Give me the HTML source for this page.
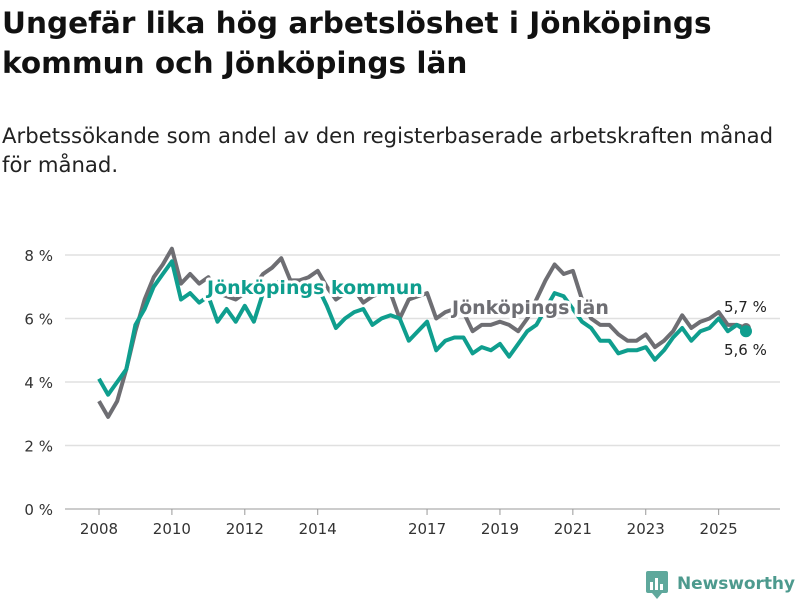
<!DOCTYPE html>
<html><head><meta charset="utf-8"><style>
body{margin:0;background:#fff;font-family:"DejaVu Sans","Liberation Sans",sans-serif;}
#wrap{position:relative;width:800px;height:600px;overflow:hidden}
</style></head><body>
<div id="wrap">
<svg id="svg" width="800" height="600" xmlns="http://www.w3.org/2000/svg">
<text x="2" y="33" font-size="29.5" font-weight="bold" fill="#111">Ungefär lika hög arbetslöshet i Jönköpings</text>
<text x="2" y="73" font-size="29.5" font-weight="bold" fill="#111">kommun och Jönköpings län</text>
<text x="2" y="143" font-size="21.2" fill="#222">Arbetssökande som andel av den registerbaserade arbetskraften månad</text>
<text x="2" y="172" font-size="21.2" fill="#222">för månad.</text>
<g id="grid"></g><g id="axes"></g><g id="series"></g><g id="labels"></g>
<g>
<rect x="646" y="571" width="22" height="22" rx="2" fill="#5fa89c"/>
<rect x="650" y="582" width="3" height="8" fill="#fff"/><rect x="655" y="578" width="3" height="12" fill="#fff"/><rect x="660" y="584" width="3" height="6" fill="#fff"/>
<polygon points="652,593 662,593 657,599" fill="#5fa89c"/>
<text x="677" y="589" font-size="17" font-weight="bold" fill="#4d9a8e" textLength="118">Newsworthy</text>
</g>
</svg>
</div>
<script>
const years=[2008,2009,2010,2011,2012,2013,2014,2015,2016,2017,2018,2019,2020,2021,2022,2023,2024,2025];
const xTicks=[2008,2010,2012,2014,2017,2019,2021,2023,2025];
const yTicks=[0,2,4,6,8];
const lanValues=[3.4,2.9,3.4,4.4, 5.6,6.6,7.3,7.7, 8.2,7.1,7.4,7.1, 7.3,6.8,6.7,6.6, 6.8,7.0,7.4,7.6, 7.9,7.2,7.2,7.3, 7.5,7.0,6.6,6.8, 6.9,6.5,6.7,6.8, 6.8,6.0,6.6,6.7, 6.8,6.0,6.2,6.3, 6.2,5.6,5.8,5.8, 5.9,5.8,5.6,6.0, 6.6,7.2,7.7,7.4, 7.5,6.6,6.0,5.8, 5.8,5.5,5.3,5.3, 5.5,5.1,5.3,5.6, 6.1,5.7,5.9,6.0, 6.2,5.8,5.8,5.7];
const kommunValues=[4.1,3.6,4.0,4.4, 5.8,6.3,7.0,7.4, 7.8,6.6,6.8,6.5, 6.7,5.9,6.3,5.9, 6.4,5.9,6.8,7.0, 7.2,6.9,6.9,7.0, 7.0,6.4,5.7,6.0, 6.2,6.3,5.8,6.0, 6.1,6.0,5.3,5.6, 5.9,5.0,5.3,5.4, 5.4,4.9,5.1,5.0, 5.2,4.8,5.2,5.6, 5.8,6.3,6.8,6.7, 6.3,5.9,5.7,5.3, 5.3,4.9,5.0,5.0, 5.1,4.7,5.0,5.4, 5.7,5.3,5.6,5.7, 6.0,5.6,5.8,5.6];
const NS="http://www.w3.org/2000/svg";
const x=t=>99+(t-2008)*36.45;
const y=v=>509-v*31.75;
function mk(tag,attrs,parent,txt){const e=document.createElementNS(NS,tag);for(const k in attrs)e.setAttribute(k,attrs[k]);if(txt!==undefined)e.textContent=txt;document.getElementById(parent).appendChild(e);return e;}
const times=[];years.forEach(yr=>{for(let q=0;q<4;q++)times.push(yr+q*0.25);});
yTicks.forEach(v=>{
 const l=mk('line',{x1:65,x2:780,y1:y(v),y2:y(v),stroke:v===0?'#bbb':'#e0e0e0','stroke-width':1.5},'grid');
 
 
 const t=mk('text',{x:53,y:y(v)+6,'font-size':15,fill:'#333','text-anchor':'end'},'axes',v+' %');
 
 
});
xTicks.forEach(yr=>{
 const tk=mk('line',{x1:x(yr),x2:x(yr),y1:509,y2:515,stroke:'#999','stroke-width':1},'axes');
 
 
 const t=mk('text',{x:x(yr),y:534,'font-size':15,fill:'#333','text-anchor':'middle'},'axes',String(yr));
 
 
});
function path(vals){return vals.map((v,i)=>(i?'L':'M')+x(times[i]).toFixed(1)+','+y(v).toFixed(1)).join(' ');}
const pl=mk('path',{d:path(lanValues),fill:'none',stroke:'#6e6e73','stroke-width':4,'stroke-linejoin':'round'},'series');


const pk=mk('path',{d:path(kommunValues),fill:'none',stroke:'#0f9e8e','stroke-width':4,'stroke-linejoin':'round'},'series');


const n=times.length-1;
const dl=mk('circle',{cx:x(times[n]),cy:y(lanValues[n]),r:5,fill:'#6e6e73'},'series');


const dk=mk('circle',{cx:x(times[n]),cy:y(kommunValues[n]),r:6,fill:'#0f9e8e'},'series');


const halo={stroke:'#fff','stroke-width':6,'paint-order':'stroke','stroke-linejoin':'round'};
const lk=mk('text',Object.assign({x:207,y:294,'font-size':19,'font-weight':'bold',fill:'#0f9e8e'},halo),'labels','Jönköpings kommun');


const ll=mk('text',Object.assign({x:452,y:314,'font-size':19,'font-weight':'bold',fill:'#6e6e73'},halo),'labels','Jönköpings län');


const vl=mk('text',Object.assign({x:724,y:312,'font-size':15,fill:'#222'},halo),'labels','5,7 %');


const vk=mk('text',Object.assign({x:724,y:355,'font-size':15,fill:'#222'},halo),'labels','5,6 %');


</script>
</body></html>
